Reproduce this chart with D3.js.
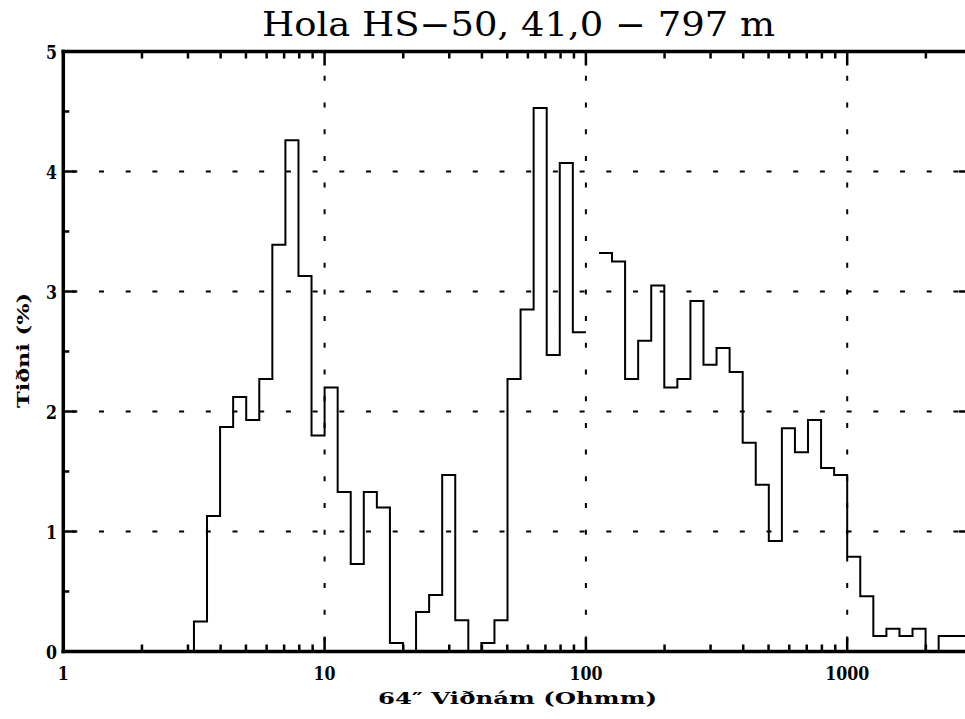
<!DOCTYPE html>
<html>
<head>
<meta charset="utf-8">
<script src="https://cdn.jsdelivr.net/npm/d3@7"></script>
<style>
  html, body { margin: 0; padding: 0; background: #fff; }
  svg { display: block; }
</style>
</head>
<body>
<svg id="chart" width="965" height="719"></svg>
<script>
// ---- data ----
const titleText = "Hola HS\u221250, 41,0 \u2212 797 m";
const xTitle = "64\u2033 Vi\u00f0n\u00e1m (Ohmm)";
const yTitle = "Ti\u00f0ni (%)";
const binsPerDecade = 20;           // bin k spans 10^(k/20) .. 10^((k+1)/20)
const binIndex = d3.range(0, 70);
const binValues = [
  0, 0, 0, 0, 0, 0, 0, 0, 0, 0,                  // k 0-9
  0.25, 1.13, 1.87, 2.12, 1.93, 2.27, 3.39, 4.26, 3.13, 1.80,   // k 10-19
  2.20, 1.33, 0.73, 1.33, 1.20, 0.07, 0, 0.33, 0.47, 1.47,      // k 20-29
  0.26, 0, 0.07, 0.26, 2.27, 2.85, 4.53, 2.47, 4.07, 2.66,      // k 30-39
  null, 3.32, 3.25, 2.27, 2.59, 3.05, 2.20, 2.27, 2.92, 2.39,   // k 40-49
  2.53, 2.33, 1.74, 1.39, 0.92, 1.86, 1.66, 1.93, 1.53, 1.47,   // k 50-59
  0.79, 0.46, 0.13, 0.19, 0.13, 0.19, 0, 0.13, 0.13, 0.13       // k 60-69
];
const xDomain = [1, 3000];
const yDomain = [0, 5];
const xMajorTicks = [1, 10, 100, 1000];
const xTickLabels = ["1", "10", "100", "1000"];
const yMajorTicks = [0, 1, 2, 3, 4, 5];
const yTickLabels = ["0", "1", "2", "3", "4", "5"];
const xGridValues = [10, 100, 1000];
const yGridValues = [1, 2, 3, 4];

// ---- layout ----
const svg = d3.select("#chart");
const pL = 63.3, pT = 51.5, pB = 651.5;
const decade = 261.3;
const pR = pL + decade * Math.log10(xDomain[1]);

const x = d3.scaleLog().domain(xDomain).range([pL, pR]);
const y = d3.scaleLinear().domain(yDomain).range([pB, pT]);

const serif = "'DejaVu Serif', 'Liberation Serif', serif";

// minor ticks
const xMinor = [];
for (let p = 0; p <= 3; p++) for (let m = 2; m <= 9; m++) {
  const v = m * Math.pow(10, p);
  if (v < xDomain[1]) xMinor.push(v);
}
const yMinor = d3.range(0.5, 5, 1);

// grid lines (dotted)
const grid = svg.append("g").attr("stroke", "#000").attr("stroke-width", 2)
  .attr("stroke-dasharray", "5,21.7");
grid.selectAll("line.h").data(yGridValues).join("line")
  .attr("x1", pL + 3).attr("x2", 965)
  .attr("y1", d => y(d)).attr("y2", d => y(d))
  .attr("stroke-dashoffset", -6);
grid.selectAll("line.v").data(xGridValues).join("line")
  .attr("x1", d => x(d)).attr("x2", d => x(d))
  .attr("y1", pB).attr("y2", pT)
  .attr("stroke-dashoffset", -10);

// histogram step line, broken at undefined bins
const edge = k => Math.pow(10, k / binsPerDecade);
const segments = [];
let cur = null;
binIndex.forEach((k, i) => {
  const v = binValues[i];
  if (v === null || v === undefined) { cur = null; return; }
  if (!cur) { cur = []; segments.push(cur); }
  cur.push([edge(k), v], [edge(k + 1), v]);
});
const line = d3.line().x(d => x(d[0])).y(d => y(d[1]));
svg.append("g").selectAll("path").data(segments).join("path")
  .attr("d", line)
  .attr("fill", "none").attr("stroke", "#000").attr("stroke-width", 2)
  .attr("stroke-linejoin", "miter");

// axes: frame
const axisG = svg.append("g").attr("stroke", "#000").attr("stroke-linecap", "square");
axisG.append("line").attr("x1", pL).attr("x2", pR).attr("y1", pB).attr("y2", pB).attr("stroke-width", 3.5);
axisG.append("line").attr("x1", pL).attr("x2", pR).attr("y1", pT).attr("y2", pT).attr("stroke-width", 3.5);
axisG.append("line").attr("x1", pL).attr("x2", pL).attr("y1", pT).attr("y2", pB).attr("stroke-width", 3.5);
axisG.append("line").attr("x1", pR).attr("x2", pR).attr("y1", pT).attr("y2", pB).attr("stroke-width", 3.5);

// ticks on all four sides (inward)
const tickG = svg.append("g").attr("stroke", "#000").attr("stroke-width", 2.5);
const xt = xMinor.map(v => ({v, len: 7})).concat(xMajorTicks.filter(v => v > 1).map(v => ({v, len: 14})));
tickG.selectAll("line.b").data(xt).join("line")
  .attr("x1", d => x(d.v)).attr("x2", d => x(d.v))
  .attr("y1", pB).attr("y2", d => pB - d.len);
tickG.selectAll("line.t").data(xt).join("line")
  .attr("x1", d => x(d.v)).attr("x2", d => x(d.v))
  .attr("y1", pT).attr("y2", d => pT + d.len);
const yt = yMinor.map(v => ({v, len: 6})).concat(yMajorTicks.filter(v => v > 0 && v < 5).map(v => ({v, len: 13})));
tickG.selectAll("line.l").data(yt).join("line")
  .attr("x1", pL).attr("x2", d => pL + d.len)
  .attr("y1", d => y(d.v)).attr("y2", d => y(d.v));
tickG.selectAll("line.r").data(yt).join("line")
  .attr("x1", pR).attr("x2", d => pR - d.len)
  .attr("y1", d => y(d.v)).attr("y2", d => y(d.v));

// tick labels
const charW = 11;
svg.append("g").selectAll("text").data(xMajorTicks).join("text")
  .attr("x", d => x(d)).attr("y", 680)
  .attr("text-anchor", "middle")
  .attr("font-family", serif).attr("font-weight", "bold").attr("font-size", 19)
  .attr("textLength", (d, i) => xTickLabels[i].length * charW)
  .attr("lengthAdjust", "spacingAndGlyphs")
  .text((d, i) => xTickLabels[i]);
svg.append("g").selectAll("text").data(yMajorTicks).join("text")
  .attr("x", 57).attr("y", d => y(d) + 7)
  .attr("text-anchor", "end")
  .attr("font-family", serif).attr("font-weight", "bold").attr("font-size", 19)
  .attr("textLength", (d, i) => yTickLabels[i].length * charW)
  .attr("lengthAdjust", "spacingAndGlyphs")
  .text((d, i) => yTickLabels[i]);

// title
svg.append("text")
  .attr("x", 262).attr("y", 36)
  .attr("font-family", serif).attr("font-size", 33)
  .attr("textLength", 513).attr("lengthAdjust", "spacingAndGlyphs")
  .text(titleText);

// axis titles
svg.append("text")
  .attr("x", 378).attr("y", 704)
  .attr("font-family", serif).attr("font-weight", "bold").attr("font-size", 17)
  .attr("textLength", 279).attr("lengthAdjust", "spacingAndGlyphs")
  .text(xTitle);
svg.append("text")
  .attr("transform", "translate(29,408) rotate(-90)")
  .attr("font-family", serif).attr("font-weight", "bold").attr("font-size", 17)
  .attr("textLength", 115).attr("lengthAdjust", "spacingAndGlyphs")
  .text(yTitle);
</script>
</body>
</html>
